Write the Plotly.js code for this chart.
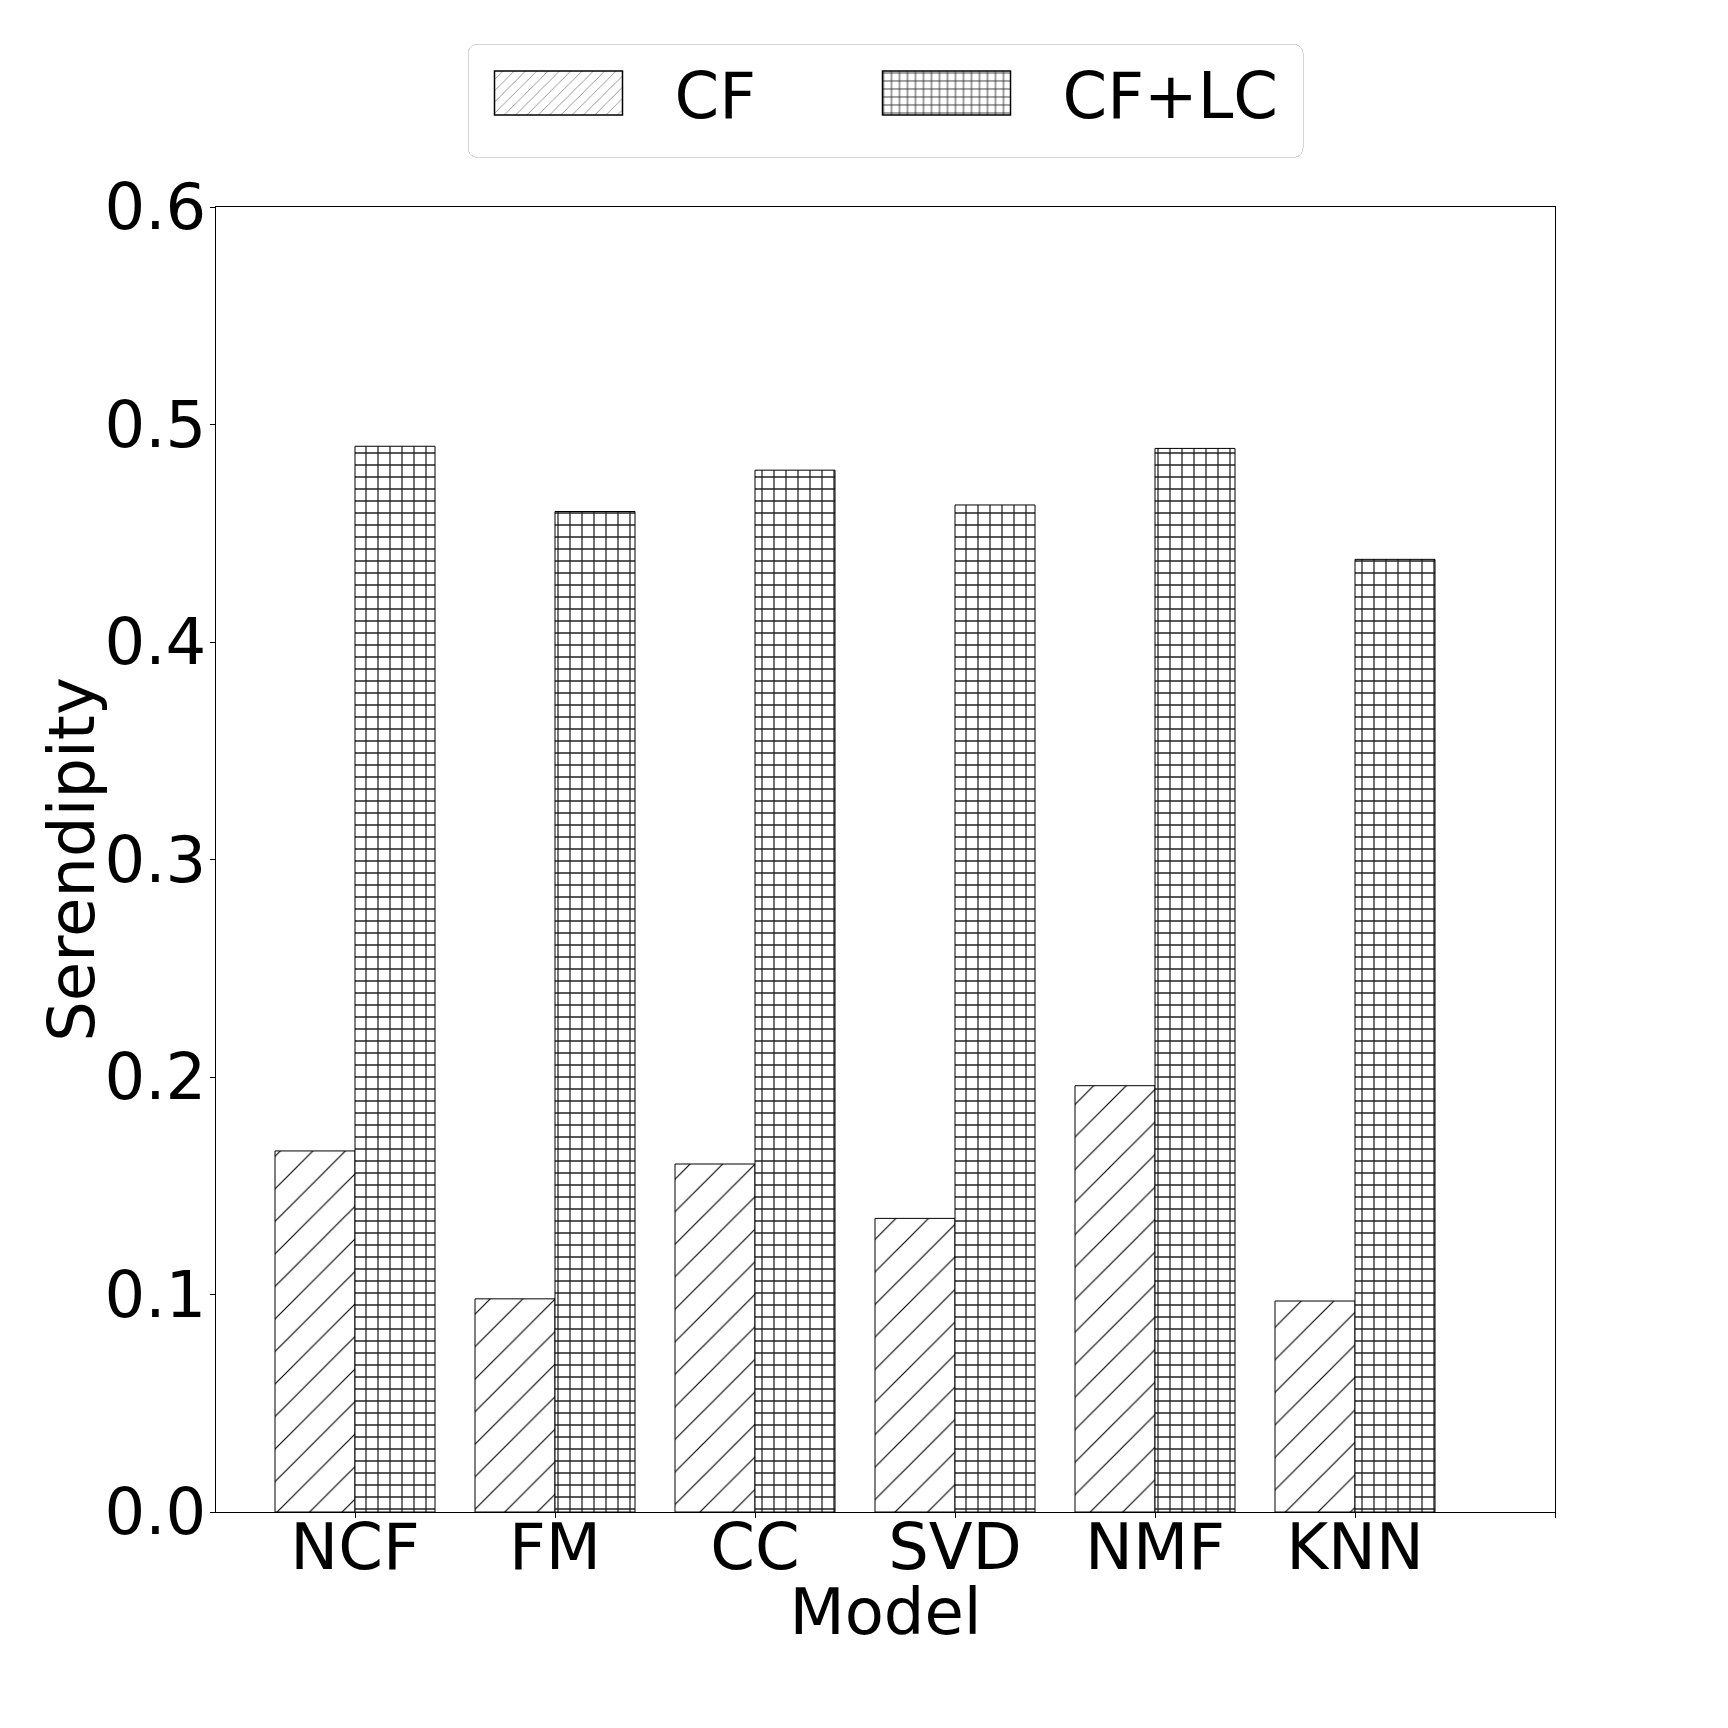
<!DOCTYPE html>
<html>
<head>
<meta charset="utf-8">
<script src="https://cdn.plot.ly/plotly-3.0.1.min.js"></script>
<style>html,body{margin:0;padding:0;background:#fff;}#chart{width:1728px;height:1728px;}</style>
</head>
<body>
<div id="chart"></div>
<script>
const models = ["NCF", "FM", "CC", "SVD", "NMF", "KNN"];
const cfValues = [0.166, 0.098, 0.160, 0.135, 0.196, 0.097];
const cfLcValues = [0.490, 0.460, 0.479, 0.463, 0.489, 0.438];
const seriesNames = ["CF", "CF+LC"];
const yTicks = [0.0, 0.1, 0.2, 0.3, 0.4, 0.5, 0.6];

const positions = models.map((m, i) => i);
const FONT = "DejaVu Sans, sans-serif";
const FS = 64;

const traces = [
  {
    type: "bar",
    name: seriesNames[0],
    x: positions,
    y: cfValues,
    offset: -0.4,
    width: 0.4,
    marker: {
      color: "white",
      line: {color: "black", width: 1},
      pattern: {shape: "/", fgcolor: "black", bgcolor: "white", size: 23, solidity: 0.05}
    },
    hoverinfo: "skip"
  },
  {
    type: "bar",
    name: seriesNames[1],
    x: positions,
    y: cfLcValues,
    offset: 0,
    width: 0.4,
    marker: {
      color: "white",
      line: {color: "black", width: 1},
      pattern: {shape: "+", fgcolor: "#222", bgcolor: "white", size: 12, solidity: 0.2}
    },
    hoverinfo: "skip"
  }
];

const layout = {
  width: 1728,
  height: 1728,
  paper_bgcolor: "white",
  plot_bgcolor: "white",
  barmode: "overlay",
  margin: {l: 216, r: 173, t: 207, b: 216},
  font: {family: FONT, color: "black", size: FS},
  showlegend: true,
  legend: {
    orientation: "h",
    x: 0.5, xanchor: "center",
    y: 1.125, yanchor: "top",
    bordercolor: "#d6d6d6", borderwidth: 1,
    bgcolor: "white",
    font: {family: FONT, size: FS, color: "black"},
    itemwidth: 196,
    entrywidth: 206,
    traceorder: "normal"
  },
  xaxis: {
    range: [-0.695, 6],
    tickmode: "array",
    tickvals: [0, 1, 2, 3, 4, 5, 6],
    ticktext: models.concat([""]),
    ticks: "outside", ticklen: 5, tickcolor: "black", tickwidth: 1,
    ticklabelstandoff: -26,
    showline: true, linecolor: "black", linewidth: 1, mirror: true,
    showgrid: false, zeroline: false,
    tickfont: {family: FONT, size: FS, color: "black"},
    title: {text: "Model", font: {family: FONT, size: FS, color: "black"}, standoff: 0}
  },
  yaxis: {
    range: [0, 0.6],
    tickmode: "array",
    tickvals: yTicks,
    ticktext: yTicks.map(v => v.toFixed(1)),
    ticks: "outside", ticklen: 5, tickcolor: "black", tickwidth: 1,
    ticklabelstandoff: -9,
    showline: true, linecolor: "black", linewidth: 1, mirror: true,
    showgrid: false, zeroline: false,
    tickfont: {family: FONT, size: FS, color: "black"},
    title: {text: "Serendipity", font: {family: FONT, size: FS, color: "black"}, standoff: 0}
  }
};

Plotly.newPlot("chart", traces, layout, {staticPlot: true, displayModeBar: false}).then(function (gd) {
  // wide hatched legend swatches, as in the reference
  gd.querySelectorAll(".legend .legendpoints path").forEach(function (p) {
    p.setAttribute("d", "M51,22H-77V-22H51Z");
    p.style.strokeWidth = "1.5px";
    p.style.stroke = "black";
  });
  // second legend entry slightly closer to the first
  const groups = gd.querySelectorAll(".legend g.traces");
  if (groups.length > 1) {
    const g = groups[1];
    const tr = g.getAttribute("transform") || "";
    const m = tr.match(/translate\(\s*([-\d.e]+)[ ,]+([-\d.e]+)\s*\)/);
    if (m) g.setAttribute("transform", "translate(" + (parseFloat(m[1]) - 29) + "," + m[2] + ")");
  }
  // taller, rounded legend frame
  const bg = gd.querySelector(".legend rect.bg");
  if (bg) {
    bg.setAttribute("height", parseFloat(bg.getAttribute("height")) + 15);
    bg.setAttribute("rx", 9);
    bg.setAttribute("ry", 9);
  }
  // nudge axis titles to the reference positions
  const yt = gd.querySelector(".g-ytitle");
  if (yt) yt.setAttribute("transform", "translate(11,0)");
  const xt = gd.querySelector(".g-xtitle");
  if (xt) xt.setAttribute("transform", "translate(0,6)");
});
</script>
</body>
</html>
